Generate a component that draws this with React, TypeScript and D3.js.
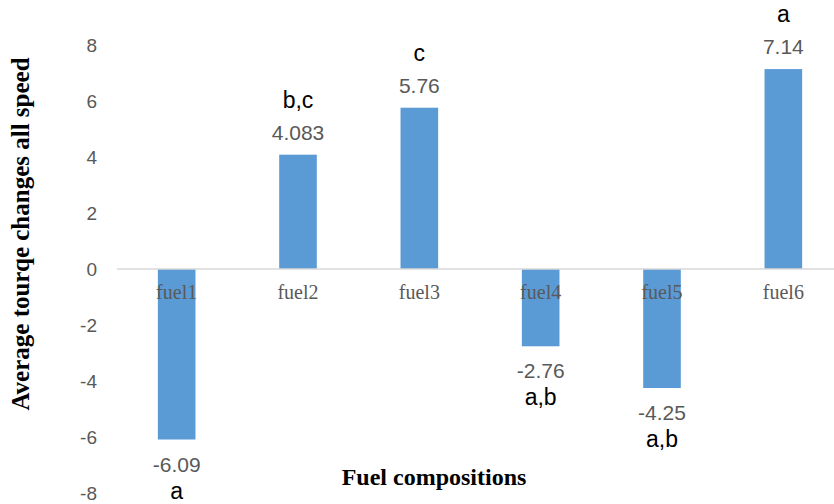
import React from "react";
import * as d3 from "d3";

const categories = ["fuel1", "fuel2", "fuel3", "fuel4", "fuel5", "fuel6"];
const values = [-6.09, 4.083, 5.76, -2.76, -4.25, 7.14];
const valueLabels = ["-6.09", "4.083", "5.76", "-2.76", "-4.25", "7.14"];
const groupLetters = ["a", "b,c", "c", "a,b", "a,b", "a"];
const yTicks = [-8, -6, -4, -2, 0, 2, 4, 6, 8];

const W = 834;
const H = 504;

export default function App() {
  const x = d3
    .scaleBand<string>()
    .domain(categories)
    .range([116, 844])
    .paddingInner(0.69)
    .paddingOuter(0.345);
  const y = d3.scaleLinear().domain([-8, 8]).range([493, 45]);
  const sans = "'Liberation Sans', Arial, sans-serif";
  const serif = "'Liberation Serif', 'Times New Roman', serif";
  const gray = "#595959";

  return (
    <svg
      width={W}
      height={H}
      style={{ position: "absolute", left: 0, top: 0, background: "#fff" }}
    >
      {yTicks.map((t) => (
        <text
          key={t}
          x={97}
          y={y(t)}
          dy="0.35em"
          textAnchor="end"
          fontFamily={sans}
          fontSize={19}
          fill={gray}
        >
          {t}
        </text>
      ))}
      {categories.map((c, i) => {
        const v = values[i];
        const x0 = x(c)!;
        const top = y(Math.max(0, v));
        const h = Math.abs(y(v) - y(0));
        return (
          <rect key={c} x={x0} y={top} width={x.bandwidth()} height={h} fill="#5b9bd5" />
        );
      })}
      <line x1={117} x2={844} y1={y(0)} y2={y(0)} stroke="#d9d9d9" strokeWidth={1.3} />
      {categories.map((c) => (
        <text
          key={c}
          x={x(c)! + x.bandwidth() / 2}
          y={y(0) + 30}
          textAnchor="middle"
          fontFamily={serif}
          fontSize={20}
          fill={gray}
        >
          {c}
        </text>
      ))}
      {categories.map((c, i) => {
        const v = values[i];
        const cx = x(c)! + x.bandwidth() / 2;
        const base = v >= 0 ? y(v) - 15 : y(v) + 32;
        const letterBase = v >= 0 ? base - 32 : base + 27;
        return (
          <g key={c}>
            <text
              x={cx}
              y={base}
              textAnchor="middle"
              fontFamily={sans}
              fontSize={21}
              fill={gray}
            >
              {valueLabels[i]}
            </text>
            <text
              x={cx}
              y={letterBase}
              textAnchor="middle"
              fontFamily={sans}
              fontSize={23}
              fill="#000"
            >
              {groupLetters[i]}
            </text>
          </g>
        );
      })}
      <text
        transform={`translate(29, 234) rotate(-90)`}
        textAnchor="middle"
        fontFamily={serif}
        fontWeight="bold"
        fontSize={25}
        fill="#000"
      >
        Average tourqe changes all speed
      </text>
      <text
        x={434}
        y={485}
        textAnchor="middle"
        fontFamily={serif}
        fontWeight="bold"
        fontSize={24}
        fill="#000"
      >
        Fuel compositions
      </text>
    </svg>
  );
}
